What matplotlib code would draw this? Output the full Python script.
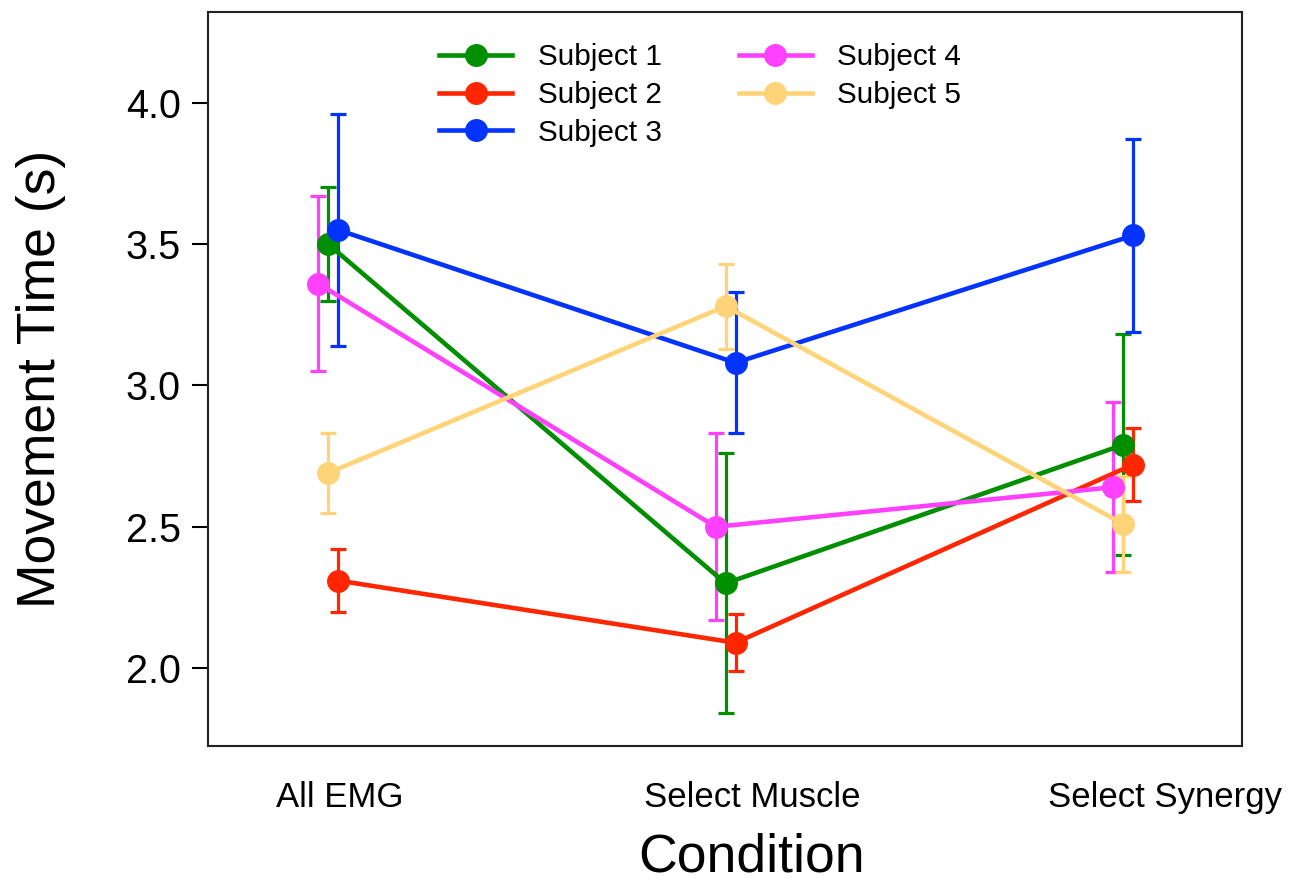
import numpy as np
import matplotlib.pyplot as plt
from matplotlib.lines import Line2D

plt.rcParams['font.family'] = ['Liberation Sans', 'DejaVu Sans']

conditions = ['All EMG', 'Select Muscle', 'Select Synergy']
subjects = ['Subject 1', 'Subject 2', 'Subject 3', 'Subject 4', 'Subject 5']
colors = ['#008F00', '#FF2600', '#0433FF', '#FF40FF', '#FFD479']

# mean movement time per subject, one value per condition
s1_mean = [3.50, 2.30, 2.79]
s2_mean = [2.31, 2.09, 2.72]
s3_mean = [3.55, 3.08, 3.53]
s4_mean = [3.36, 2.50, 2.64]
s5_mean = [2.69, 3.28, 2.51]

# error bar half-lengths
s1_err = [0.20, 0.46, 0.39]
s2_err = [0.11, 0.10, 0.13]
s3_err = [0.41, 0.25, 0.34]
s4_err = [0.31, 0.33, 0.30]
s5_err = [0.14, 0.15, 0.17]

means = [s1_mean, s2_mean, s3_mean, s4_mean, s5_mean]
errs = [s1_err, s2_err, s3_err, s4_err, s5_err]

# small horizontal shift per subject so the bars don't sit on top of each other
dodge = [-0.024, 0.0, 0.0, -0.048, -0.024]

fig = plt.figure(figsize=(13.05, 8.84), dpi=100)
ax = fig.add_axes([0.1594, 0.1561, 0.7923, 0.8303])

base = np.arange(len(conditions)) * 0.964 - 0.005
handles = []
for i in range(len(subjects)):
    x = base + dodge[i]
    ax.errorbar(x, means[i], yerr=errs[i], color=colors[i], lw=3.3,
                elinewidth=2.3, capsize=5.5, capthick=2.3,
                marker='o', markersize=15.5)
    handles.append(Line2D([], [], color=colors[i], lw=3.3, marker='o',
                          markersize=15.5, label=subjects[i]))

ax.set_xlim(-0.32, 2.187)
ax.set_ylim(1.725, 4.32)
ax.set_xticks([0, 1, 2])
ax.set_xticklabels(conditions, fontsize=25)
ax.set_yticks([2.0, 2.5, 3.0, 3.5, 4.0])
ax.set_yticklabels(['2.0', '2.5', '3.0', '3.5', '4.0'], fontsize=28.5)
ax.tick_params(axis='x', length=0, pad=25)
ax.tick_params(axis='y', length=11.5, width=1.5, direction='out', pad=8)
for sp in ax.spines.values():
    sp.set_linewidth(1.5)
    sp.set_color('#222222')

ax.set_xlabel('Condition', fontsize=38.5)
ax.xaxis.set_label_coords(0.526, -0.118)
ax.set_ylabel('Movement Time (s)', fontsize=38.5, labelpad=43)

ax.legend(handles=handles, ncol=2, frameon=False, fontsize=21.4,
          loc='upper center', bbox_to_anchor=(0.476, 1.0), handlelength=2.45,
          handletextpad=0.85, columnspacing=2.6, labelspacing=0.33,
          borderaxespad=0.65)

plt.savefig('out.png', dpi=100)
